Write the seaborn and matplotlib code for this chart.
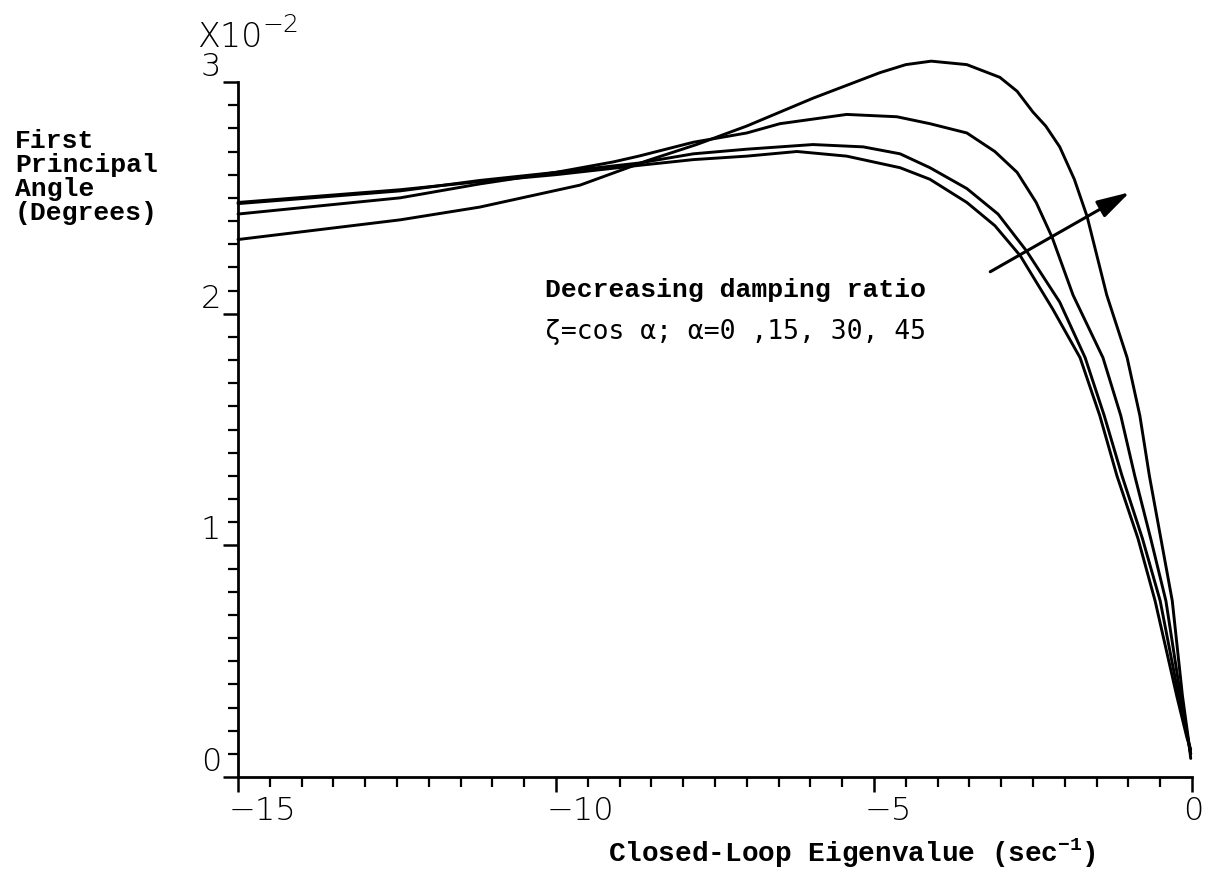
import numpy as np
import pandas as pd
import seaborn as sns
import matplotlib.pyplot as plt
import matplotlib.transforms as mtransforms
from matplotlib.ticker import MultipleLocator

# curves, alpha = 0, 15, 30, 45 deg
x_a0 = [-15, -12.45, -11.2, -10, -8.7, -7.84, -7.0, -6.21, -5.43, -4.59, -4.12, -3.54, -3.1, -2.7, -2.19, -1.76, -1.45, -1.18, -0.85, -0.58, -0.24, -0.08, -0.02]
y_a0 = [2.48, 2.535, 2.57, 2.60, 2.64, 2.665, 2.68, 2.70, 2.68, 2.63, 2.58, 2.48, 2.38, 2.25, 2.02, 1.81, 1.56, 1.30, 1.03, 0.76, 0.35, 0.17, 0.12]

x_a15 = [-15, -12.45, -11.2, -10, -8.7, -7.84, -7.0, -5.96, -5.17, -4.59, -4.12, -3.54, -3.05, -2.6, -2.08, -1.68, -1.38, -1.1, -0.78, -0.5, -0.21, -0.07, -0.02]
y_a15 = [2.475, 2.53, 2.575, 2.61, 2.65, 2.69, 2.71, 2.73, 2.72, 2.69, 2.63, 2.54, 2.43, 2.27, 2.05, 1.81, 1.56, 1.30, 1.03, 0.76, 0.35, 0.17, 0.10]

x_a30 = [-15, -12.45, -11.2, -10, -9.1, -8.7, -7.84, -7.0, -6.48, -5.43, -4.64, -4.12, -3.54, -3.1, -2.75, -2.45, -2.2, -1.87, -1.4, -1.12, -0.9, -0.65, -0.41, -0.18, -0.06, -0.02]
y_a30 = [2.43, 2.50, 2.56, 2.61, 2.655, 2.68, 2.74, 2.78, 2.82, 2.86, 2.85, 2.82, 2.78, 2.70, 2.61, 2.48, 2.33, 2.08, 1.81, 1.56, 1.30, 1.03, 0.76, 0.35, 0.16, 0.10]

x_a45 = [-15, -12.45, -11.2, -9.62, -8.57, -7.79, -7.0, -5.96, -4.91, -4.5, -4.1, -3.54, -3.02, -2.75, -2.5, -2.3, -2.08, -1.85, -1.65, -1.34, -1.02, -0.82, -0.67, -0.49, -0.31, -0.15, -0.05, -0.02]
y_a45 = [2.32, 2.405, 2.46, 2.555, 2.66, 2.73, 2.81, 2.93, 3.04, 3.075, 3.09, 3.075, 3.02, 2.96, 2.87, 2.81, 2.72, 2.58, 2.42, 2.08, 1.81, 1.56, 1.30, 1.03, 0.76, 0.35, 0.15, 0.08]

curves = [(x_a0, y_a0), (x_a15, y_a15), (x_a30, y_a30), (x_a45, y_a45)]

sns.set_style('ticks')
plt.rcParams['text.color'] = 'black'
plt.rcParams['xtick.color'] = 'black'
plt.rcParams['ytick.color'] = 'black'
plt.rcParams['axes.edgecolor'] = 'black'
plt.rcParams['mathtext.fontset'] = 'custom'
plt.rcParams['mathtext.default'] = 'regular'

mono = 'Liberation Mono'
plt.rcParams['mathtext.rm'] = mono + ':bold'

fig = plt.figure(figsize=(12.08, 8.76), dpi=100)
ax = fig.add_axes([238 / 1208, 1 - 777 / 876, (1192 - 238) / 1208, (777 - 82) / 876])

for xs, ys in curves:
    sns.lineplot(x=xs, y=ys, ax=ax, color='black', lw=2.1, estimator=None, sort=False)
for ln in ax.lines:
    ln.set_clip_on(False)

ax.set_xlim(-15, 0)
ax.set_ylim(0, 3)
sns.despine(ax=ax)
for s in ['left', 'bottom']:
    ax.spines[s].set_linewidth(2.0)

ax.xaxis.set_major_locator(MultipleLocator(5))
ax.xaxis.set_minor_locator(MultipleLocator(0.5))
ax.yaxis.set_major_locator(MultipleLocator(1))
ax.yaxis.set_minor_locator(MultipleLocator(0.1))
ax.tick_params(which='major', length=11, width=1.8, direction='out')
ax.tick_params(which='minor', length=7, width=1.6, direction='out')
ax.tick_params(axis='y', which='major', pad=1)
ax.tick_params(axis='x', which='major', pad=3)

ax.set_xticks([-15, -10, -5, 0])
ax.set_xticklabels(['\u221215', '\u221210', '\u22125', '0'], fontsize=23, fontweight='light')
ax.set_yticks([0, 1, 2, 3])
ax.set_yticklabels(['0', '1', '2', '3'], fontsize=23, fontweight='light')
for lab in ax.get_yticklabels():
    lab.set_va('bottom')
shift = mtransforms.ScaledTranslation(-9 / 100, 0, fig.dpi_scale_trans)
for lab in ax.get_xticklabels():
    lab.set_ha('left')
    lab.set_transform(lab.get_transform() + shift)

ax.set_xlabel('')
ax.set_ylabel('')

# multiplier above the y axis
fig.text(197 / 1208, 1 - 47 / 876, 'X10', fontsize=24, fontweight='light', ha='left', va='baseline')
fig.text(262 / 1208, 1 - 32 / 876, '\u22122', fontsize=18, fontweight='light', ha='left', va='baseline')

fig.text(15 / 1208, 1 - 129 / 876, 'First\nPrincipal\nAngle\n(Degrees)', family=mono, fontweight='bold',
         fontsize=19, linespacing=1.0, ha='left', va='top')

fig.text(608 / 1208, 1 - 862 / 876, 'Closed-Loop Eigenvalue (sec$^{-1}$)', family=mono, fontweight='bold',
         fontsize=20, ha='left', va='baseline')

ax.text(-10.17, 2.07, 'Decreasing damping ratio', family=mono, fontweight='bold', fontsize=19,
        ha='left', va='baseline')
ax.text(-10.17, 1.89, '\u03b6=cos \u03b1; \u03b1=0 ,15, 30, 45', family='DejaVu Sans Mono', fontsize=19,
        ha='left', va='baseline')

ax.annotate('', xy=(-0.94, 2.53), xytext=(-3.21, 2.175),
            arrowprops=dict(arrowstyle='-|>,head_length=1.0,head_width=0.28', color='black',
                            lw=2.2, mutation_scale=20))

fig.savefig('out.png', dpi=100, facecolor='white')
